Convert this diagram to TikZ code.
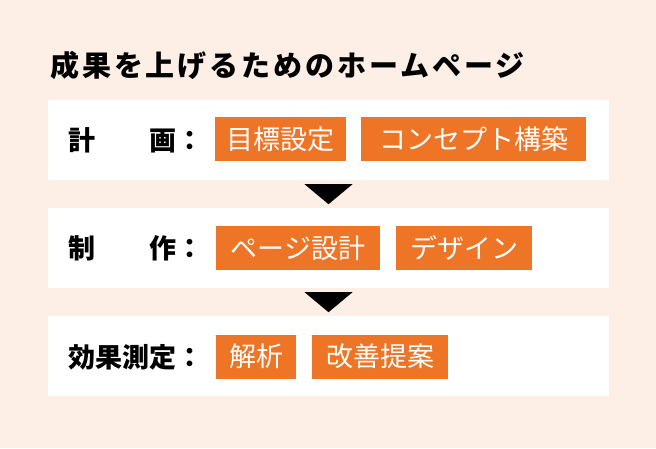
\documentclass[tikz,border=0pt]{standalone}
\usepackage{fontspec}
\usetikzlibrary{calc}
\setmainfont{Noto Sans CJK JP}
\newfontfamily\titlefont[LetterSpace=10]{Noto Sans CJK JP}
\definecolor{bg}{RGB}{253,238,230}
\definecolor{org}{RGB}{238,116,38}
\begin{document}
\begin{tikzpicture}[x=1pt,y=-1pt,
  band/.style={fill=white, draw=none, minimum width=561pt, minimum height=80pt, inner sep=0pt},
  tag/.style={fill=org, text=white, font=\fontsize{27}{27}\selectfont, minimum height=44pt, inner sep=0pt, anchor=west},
  lab/.style={font=\fontsize{27}{27}\selectfont\bfseries, inner sep=0pt, anchor=west},
  ttl/.style={font=\titlefont\fontsize{29}{29}\selectfont\bfseries, inner sep=0pt, anchor=west},
  tri/.style={fill=black}]
\useasboundingbox[fill=bg] (0,0) rectangle (656,448);
\node[ttl] (title) at (50,65) {成果を上げるためのホームページ};
\node[band] (b1) at (328.5,140) {};
\node[band] (b2) at (328.5,248) {};
\node[band] (b3) at (328.5,356) {};
\node[lab] (l1) at (68,140) {計　　画：};
\node[lab] (l2) at (68,248) {制　　作：};
\node[lab] (l3) at (68,357) {効果測定：};
\node[tag, minimum width=131pt] (t11) at (215,139) {目標設定};
\node[tag, minimum width=225pt] (t12) at (361,139) {コンセプト構築};
\node[tag, minimum width=164pt] (t21) at (216,248) {ページ設計};
\node[tag, minimum width=136pt] (t22) at (396,248) {デザイン};
\node[tag, minimum width=80pt] (t31) at (216,356.5) {解析};
\node[tag, minimum width=136pt] (t32) at (312,356.5) {改善提案};
\fill[tri] ($(b1.south)+(-24,4)$) -- ($(b1.south)+(24,4)$) -- ($(b1.south)+(0,24)$) -- cycle;
\fill[tri] ($(b2.south)+(-24,4)$) -- ($(b2.south)+(24,4)$) -- ($(b2.south)+(0,24)$) -- cycle;
\end{tikzpicture}
\end{document}
